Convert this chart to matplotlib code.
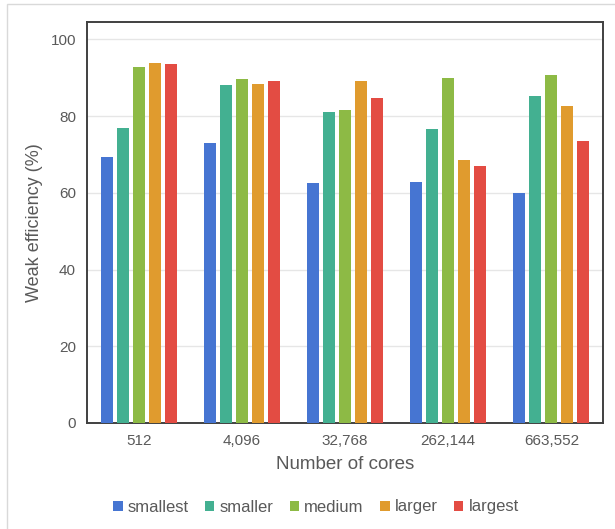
import numpy as np
import matplotlib
matplotlib.use("Agg")
import matplotlib.pyplot as plt
from matplotlib.patches import Rectangle

plt.rcParams['font.family'] = ['Liberation Sans', 'DejaVu Sans']

cores = ['512', '4,096', '32,768', '262,144', '663,552']
sizes = ['smallest', 'smaller', 'medium', 'larger', 'largest']
smallest = [69.2, 72.9, 62.6, 62.9, 59.9]
smaller = [76.8, 88.1, 81.1, 76.5, 85.1]
medium = [92.7, 89.7, 81.6, 89.9, 90.8]
larger = [93.7, 88.3, 89.0, 68.5, 82.6]
largest = [93.5, 89.2, 84.8, 67.0, 73.5]
series = [smallest, smaller, medium, larger, largest]
colors = ['#4675d2', '#43b091', '#8dba45', '#e09b2e', '#e34c43']

text_col = '#595959'

fig = plt.figure(figsize=(6.15, 5.29), dpi=100)
ax = fig.add_axes([87 / 615, 1 - 423 / 529, 516 / 615, 401 / 529])

# light frame around the whole chart
fig.patches.append(Rectangle((7 / 615, -0.01), 1.0, 1 - 4 / 529 + 0.01,
                             transform=fig.transFigure, fill=False,
                             edgecolor='#d9d9d9', linewidth=1.0))

x = np.arange(len(cores))
pitch = 0.155
width = 0.118
for i, (vals, name, c) in enumerate(zip(series, sizes, colors)):
    ax.bar(x + (i - 2) * pitch, vals, width=width, color=c, label=name, zorder=3)

ax.set_xlim(-0.5, 4.5)
ax.set_ylim(0, 104.5)
ax.set_yticks([0, 20, 40, 60, 80, 100])
ax.set_xticks(x)
ax.set_xticklabels(cores)
ax.grid(axis='y', color='#e6e6e6', linewidth=1.0, zorder=0)
ax.tick_params(axis='both', length=0, labelsize=11, colors=text_col, pad=8)
for s in ax.spines.values():
    s.set_color('#404040')
    s.set_linewidth(1.4)

ax.set_xlabel('Number of cores', fontsize=13.5, color=text_col, labelpad=6)
ax.set_ylabel('Weak efficiency (%)', fontsize=13, color=text_col, labelpad=5)

handles, labels = ax.get_legend_handles_labels()
fig.legend(handles, labels, loc='center', bbox_to_anchor=(316 / 615, 1 - 507 / 529),
           ncol=5, frameon=False, fontsize=12, handlelength=0.55, handleheight=0.55,
           handletextpad=0.3, columnspacing=1.0, labelcolor=text_col)

fig.savefig('out.png', dpi=100)
